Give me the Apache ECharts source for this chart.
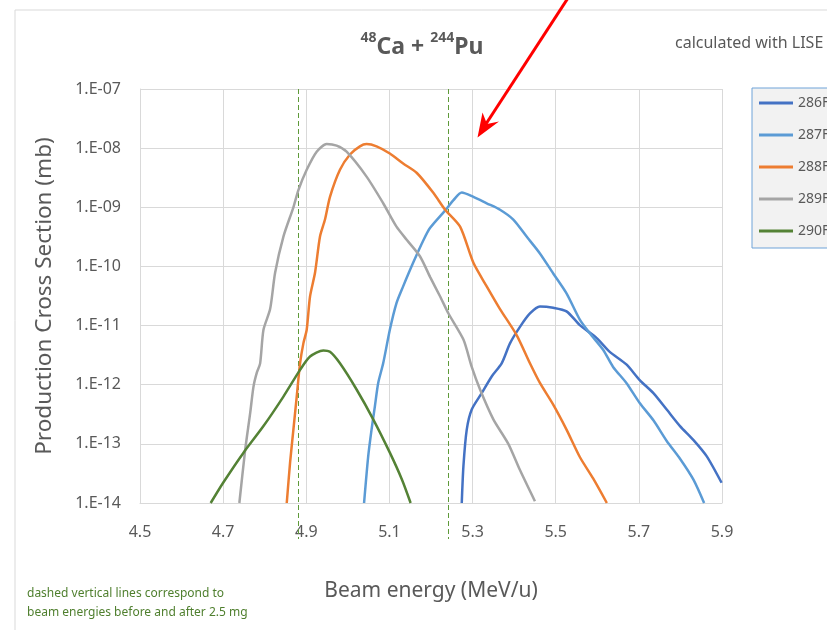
<!DOCTYPE html>
<html>
<head>
<meta charset="utf-8">
<script src="https://cdn.jsdelivr.net/npm/echarts@6/dist/echarts.min.js"></script>
<style>
html,body{margin:0;padding:0;background:#fff;}
#chart{width:827px;height:630px;}
</style>
</head>
<body>
<div id="chart"></div>
<script>
// ---- data ----
const seriesNames = ['286F', '287F', '288F', '289F', '290F'];
const seriesColors = ['#4472c4', '#5b9bd5', '#ed7d31', '#a5a5a5', '#548235'];

const energy286 = [5.274, 5.278, 5.286, 5.298, 5.322, 5.346, 5.370, 5.390, 5.414, 5.438, 5.462, 5.494, 5.526, 5.558, 5.598, 5.630, 5.670, 5.702, 5.735, 5.767, 5.799, 5.831, 5.863, 5.899];
const sigma286  = [1.0e-14, 4.2e-14, 1.74e-13, 3.8e-13, 7.2e-13, 1.38e-12, 2.3e-12, 5.0e-12, 9.5e-12, 1.6e-11, 2.1e-11, 2.0e-11, 1.74e-11, 1.02e-11, 6.2e-12, 3.6e-12, 2.2e-12, 1.2e-12, 7.2e-13, 3.8e-13, 2.0e-13, 1.17e-13, 6.2e-14, 2.2e-14];

const energy287 = [5.039, 5.049, 5.057, 5.065, 5.073, 5.085, 5.101, 5.117, 5.133, 5.157, 5.182, 5.198, 5.238, 5.254, 5.274, 5.302, 5.334, 5.366, 5.398, 5.430, 5.462, 5.494, 5.526, 5.558, 5.582, 5.614, 5.638, 5.670, 5.702, 5.735, 5.767, 5.799, 5.831, 5.857];
const sigma287  = [1.0e-14, 6.2e-14, 1.74e-13, 4.3e-13, 1.07e-12, 2.3e-12, 8.5e-12, 2.4e-11, 4.6e-11, 1.15e-10, 2.8e-10, 4.5e-10, 9.5e-10, 1.32e-9, 1.78e-9, 1.5e-9, 1.17e-9, 9.1e-10, 6.2e-10, 3.2e-10, 1.66e-10, 7.6e-11, 3.5e-11, 1.26e-11, 7.4e-12, 3.9e-12, 2.0e-12, 1.07e-12, 4.9e-13, 2.5e-13, 1.12e-13, 5.6e-14, 2.5e-14, 1.0e-14];

const energy288 = [4.853, 4.861, 4.869, 4.877, 4.885, 4.893, 4.901, 4.909, 4.921, 4.933, 4.945, 4.957, 4.981, 5.005, 5.029, 5.045, 5.069, 5.101, 5.133, 5.166, 5.206, 5.234, 5.270, 5.302, 5.334, 5.366, 5.406, 5.438, 5.462, 5.494, 5.526, 5.558, 5.590, 5.623];
const sigma288  = [1.0e-14, 4.8e-14, 1.74e-13, 6.3e-13, 2.3e-12, 5.0e-12, 8.5e-12, 3.1e-11, 7.8e-11, 3.2e-10, 6.2e-10, 1.5e-9, 4.3e-9, 7.8e-9, 1.07e-8, 1.17e-8, 1.07e-8, 8.1e-9, 5.5e-9, 3.8e-9, 1.74e-9, 9.1e-10, 4.7e-10, 1.15e-10, 4.6e-11, 1.9e-11, 6.9e-12, 2.3e-12, 1.07e-12, 4.6e-13, 1.74e-13, 6.0e-14, 2.6e-14, 1.0e-14];

const energy289 = [4.739, 4.753, 4.765, 4.773, 4.781, 4.789, 4.797, 4.813, 4.825, 4.845, 4.869, 4.881, 4.901, 4.925, 4.949, 4.973, 4.997, 5.045, 5.085, 5.117, 5.142, 5.173, 5.198, 5.222, 5.242, 5.278, 5.298, 5.318, 5.350, 5.386, 5.414, 5.450];
const sigma289  = [1.0e-14, 7.9e-14, 3.3e-13, 9.3e-13, 1.6e-12, 2.3e-12, 8.5e-12, 1.9e-11, 7.8e-11, 3.2e-10, 1.0e-9, 1.95e-9, 4.3e-9, 8.7e-9, 1.17e-8, 1.1e-8, 8.7e-9, 3.3e-9, 1.17e-9, 4.7e-10, 2.8e-10, 1.5e-10, 6.6e-11, 3.1e-11, 1.6e-11, 5.8e-12, 2.0e-12, 8.3e-13, 2.6e-13, 1.0e-13, 3.6e-14, 1.07e-14];

const energy290 = [4.670, 4.700, 4.749, 4.797, 4.845, 4.885, 4.909, 4.941, 4.957, 4.981, 5.021, 5.061, 5.101, 5.130, 5.151];
const sigma290  = [1.0e-14, 2.2e-14, 7.1e-14, 2.0e-13, 6.3e-13, 1.78e-12, 3.0e-12, 3.8e-12, 3.6e-12, 2.3e-12, 8.3e-13, 2.6e-13, 7.1e-14, 2.5e-14, 1.0e-14];

const dashedEnergies = [4.88, 5.24];   // beam energies before / after 2.5 mg

const xMin = 4.5, xMax = 5.9, xStep = 0.2;
const yMin = 1e-14, yMax = 1e-7;

const titleText = '{sup|48}{b|Ca + }{sup|244}{b|Pu}';
const noteLines = ['dashed vertical lines correspond to', 'beam energies before and after 2.5 mg'];
// ------------------------------------------------

const FONT = 'Noto Sans';
const TXT = '#595959';
const allEnergy = [energy286, energy287, energy288, energy289, energy290];
const allSigma = [sigma286, sigma287, sigma288, sigma289, sigma290];

const lineSeries = seriesNames.map((n, i) => ({
  name: n,
  type: 'line',
  data: allEnergy[i].map((e, k) => [e, allSigma[i][k]]),
  showSymbol: false,
  symbol: 'none',
  smooth: 0.25,
  z: 3,
  color: seriesColors[i],
  lineStyle: { width: 2.5, color: seriesColors[i] }
}));

const dashedSeries = {
  name: 'dashed',
  type: 'custom',
  clip: false,
  silent: true,
  z: 2,
  data: dashedEnergies.map(e => [e, yMax]),
  encode: { x: 0, y: 1 },
  renderItem: function (params, api) {
    const x = api.value(0);
    const top = api.coord([x, yMax]);
    const bot = api.coord([x, yMin]);
    const px = Math.round(top[0]) + 0.5;
    return {
      type: 'line',
      shape: { x1: px, y1: top[1], x2: px, y2: bot[1] + 36 },
      style: { stroke: '#5f9a3a', lineWidth: 1, lineDash: [5, 3] }
    };
  }
};

const chart = echarts.init(document.getElementById('chart'));
chart.setOption({
  animation: false,
  backgroundColor: '#ffffff',
  textStyle: { fontFamily: FONT },
  title: {
    text: titleText,
    left: 417,
    textAlign: 'center',
    top: 26,
    textStyle: {
      rich: {
        b: { fontSize: 23, fontWeight: 'bold', color: TXT, fontFamily: FONT, lineHeight: 28, verticalAlign: 'bottom' },
        sup: { fontSize: 14, fontWeight: 'bold', color: TXT, fontFamily: FONT, lineHeight: 28, verticalAlign: 'top', padding: [0, 0, 10, 0] }
      }
    }
  },
  legend: {
    data: seriesNames,
    orient: 'vertical',
    left: 752,
    top: 88,
    icon: 'rect',
    itemWidth: 34,
    itemHeight: 3,
    itemGap: 16,
    padding: [7, 10, 9, 7],
    backgroundColor: '#f2f2f2',
    borderColor: '#6fa3d8',
    borderWidth: 1,
    textStyle: { fontSize: 14, color: TXT, fontFamily: FONT, lineHeight: 16 }
  },
  grid: { left: 140, right: 105, top: 89, bottom: 127, containLabel: false },
  xAxis: {
    type: 'value',
    min: xMin, max: xMax, interval: xStep,
    name: 'Beam energy (MeV/u)',
    nameLocation: 'middle',
    nameGap: 78,
    nameTextStyle: { fontSize: 21, color: TXT, fontFamily: FONT },
    axisLine: { show: true, lineStyle: { color: '#d9d9d9', width: 1 } },
    axisTick: { show: false },
    axisLabel: { margin: 21, fontSize: 16, color: TXT, fontFamily: FONT, formatter: v => v.toFixed(1) },
    splitLine: { show: true, lineStyle: { color: '#d9d9d9', width: 1 } }
  },
  yAxis: {
    type: 'log',
    logBase: 10,
    min: yMin, max: yMax, interval: 1,
    name: 'Production Cross Section (mb)',
    nameLocation: 'middle',
    nameGap: 84,
    nameRotate: 90,
    nameTextStyle: { fontSize: 22.5, color: TXT, fontFamily: FONT },
    axisLine: { show: true, lineStyle: { color: '#d9d9d9', width: 1 } },
    axisTick: { show: false },
    axisLabel: {
      margin: 19, fontSize: 16, color: TXT, fontFamily: FONT,
      formatter: v => '1.E-' + String(Math.round(-Math.log10(v))).padStart(2, '0')
    },
    splitLine: { show: true, lineStyle: { color: '#d9d9d9', width: 1 } }
  },
  graphic: [
    { type: 'rect', silent: true, z: -10, shape: { x: 15, y: 10, width: 900, height: 700 }, style: { fill: 'none', stroke: '#d9d9d9', lineWidth: 1 } },
    { type: 'text', silent: true, left: 675, top: 35, style: { text: 'calculated with LISE', font: '16px "Noto Sans"', fill: TXT } },
    { type: 'text', silent: true, left: 27, top: 584, style: { text: noteLines.join('\n'), font: '12px "Noto Sans"', lineHeight: 19, fill: '#4f7f2e' } },
    { type: 'line', silent: true, z: 100, shape: { x1: 568, y1: -2, x2: 484, y2: 127 }, style: { stroke: '#ff0000', lineWidth: 3 } },
    { type: 'polygon', silent: true, z: 100, shape: { points: [[477.5, 137.5], [482.5, 112.5], [487, 124], [499, 121.5]] }, style: { fill: '#ff0000' } }
  ],
  series: lineSeries.concat([dashedSeries])
});
</script>
</body>
</html>
